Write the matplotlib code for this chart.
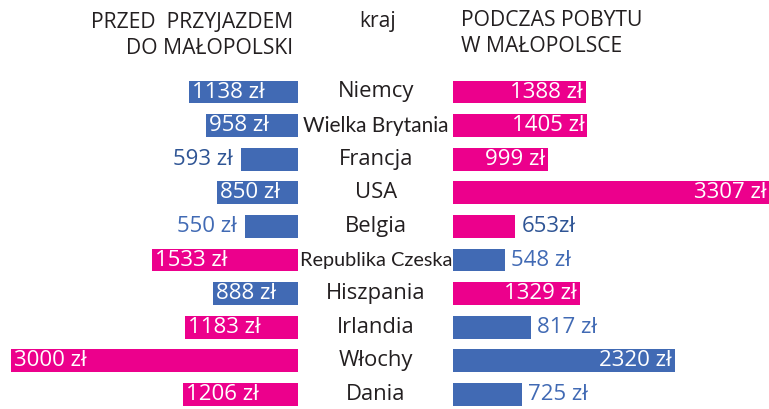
import matplotlib
matplotlib.use("Agg")
import matplotlib.pyplot as plt
from matplotlib.transforms import blended_transform_factory

# data
countries = ["Niemcy", "Wielka Brytania", "Francja", "USA", "Belgia",
             "Republika Czeska", "Hiszpania", "Irlandia", "Włochy", "Dania"]
before = [1138, 958, 593, 850, 550, 1533, 888, 1183, 3000, 1206]
during = [1388, 1405, 999, 3307, 653, 548, 1329, 817, 2320, 725]
before_labels = ["1138 zł", "958 zł", "593 zł", "850 zł", "550 zł",
                 "1533 zł", "888 zł", "1183 zł", "3000 zł", "1206 zł"]
during_labels = ["1388 zł", "1405 zł", "999 zł", "3307 zł", "653zł",
                 "548 zł", "1329 zł", "817 zł", "2320 zł", "725 zł"]

PINK = "#EC008C"
BLUE = "#416AB4"
DARK_BLUE = "#2F5595"
TEXT = "#231F20"

FONT = "Open Sans"
NARROW = "Lato"

W, H = 769, 409
fig = plt.figure(figsize=(W / 100, H / 100), dpi=100)

n = len(countries)
row0, step = 92, 33.6
top_px = row0 - step / 2
y_bottom = (H - row0) / step
ax_h = (H - top_px) / H

scale = 0.09556  # px per zl
axL = fig.add_axes([0, 0, 298 / W, ax_h])
axR = fig.add_axes([453 / W, 0, (W - 453) / W, ax_h])
axL.set_xlim(298 / scale, 0)
axR.set_xlim(0, (W - 453) / scale)
for ax in (axL, axR):
    ax.set_ylim(y_bottom, -0.5)
    ax.axis("off")

ys = list(range(n))
colL = [PINK if b > d else BLUE for b, d in zip(before, during)]
colR = [PINK if d > b else BLUE for b, d in zip(before, during)]
axL.barh(ys, before, height=0.68, color=colL)
axR.barh(ys, during, height=0.68, color=colR)

fs = 16
pad = 3 / scale
for i in range(n):
    b, d = before[i], during[i]
    if b >= 850:
        axL.text(b - pad, i, before_labels[i], ha="left", va="center",
                 color="white", fontsize=fs, family=FONT)
    else:
        axL.text(b + 3 * pad, i, before_labels[i], ha="right", va="center",
                 color=DARK_BLUE if i == 2 else BLUE, fontsize=fs, family=FONT)
    if d >= 850:
        axR.text(d - pad, i, during_labels[i], ha="right", va="center",
                 color="white", fontsize=fs, family=FONT)
    else:
        axR.text(d + 2 * pad, i, during_labels[i], ha="left", va="center",
                 color=DARK_BLUE if i == 4 else BLUE, fontsize=fs, family=FONT)

# country names in the middle column, long ones in a narrower face
tr = blended_transform_factory(fig.transFigure, axR.transData)
for i, c in enumerate(countries):
    if len(c) > 15:
        size, fam = 14.3, NARROW
    elif len(c) > 12:
        size, fam = 15, NARROW
    else:
        size, fam = 15.8, FONT
    fig.text(376 / W, i, c, transform=tr, ha="center", va="center",
             color=TEXT, fontsize=size, family=fam)

fig.text(293 / W, 1 - 22 / H, "PRZED  PRZYJAZDEM", ha="right", va="center",
         color=TEXT, fontsize=15.2, family=FONT)
fig.text(293 / W, 1 - 48 / H, "DO MAŁOPOLSKI", ha="right", va="center",
         color=TEXT, fontsize=15.2, family=FONT)
fig.text(378 / W, 1 - 22 / H, "kraj", ha="center", va="center",
         color=TEXT, fontsize=15.2, family=FONT)
fig.text(461 / W, 1 - 20 / H, "PODCZAS POBYTU", ha="left", va="center",
         color=TEXT, fontsize=15.2, family=FONT)
fig.text(461 / W, 1 - 46 / H, "W MAŁOPOLSCE", ha="left", va="center",
         color=TEXT, fontsize=15.2, family=FONT)

fig.savefig("out.png", dpi=100)
